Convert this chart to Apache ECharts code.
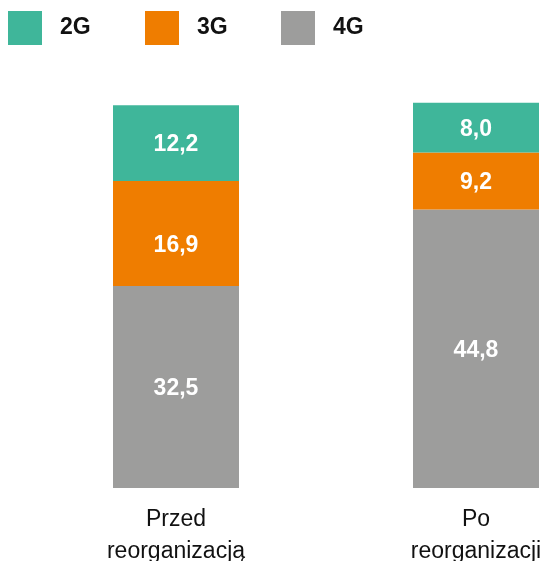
<!DOCTYPE html>
<html>
<head>
<meta charset="utf-8">
<script src="https://cdn.jsdelivr.net/npm/echarts@6/dist/echarts.min.js"></script>
<style>html,body{margin:0;padding:0;background:#fff;}#c{width:543px;height:561px;}</style>
</head>
<body>
<div id="c"></div>
<script>
const categories = ['Przed\nreorganizacją', 'Po\nreorganizacji'];
const seriesNames = ['2G', '3G', '4G'];
const values2G = [12.2, 8.0];
const values3G = [16.9, 9.2];
const values4G = [32.5, 44.8];

const colors = { '2G': '#3FB69A', '3G': '#EF7D00', '4G': '#9D9D9C' };
const FONT = '"Liberation Sans", Arial, Helvetica, sans-serif';

const chart = echarts.init(document.getElementById('c'));
const fmt = p => p.value.toFixed(1).replace('.', ',');

function mkSeries(name, values, offsets) {
  return {
    name: name, type: 'bar', stack: 'total',
    data: values.map((v, i) => (offsets && offsets[i]) ? { value: v, label: { offset: offsets[i] } } : v),
    barWidth: 126,
    itemStyle: { color: colors[name] },
    label: { show: true, position: 'inside', formatter: fmt, color: '#fff', offset: [0, 2],
      fontFamily: FONT, fontSize: 23, fontWeight: 'bold' },
    emphasis: { disabled: true }
  };
}

function mkLegend(name, left) {
  return {
    data: [name], left: left, top: 11, padding: 0, itemWidth: 34, itemHeight: 34,
    icon: 'rect', selectedMode: false,
    textStyle: { fontFamily: FONT, fontSize: 23, fontWeight: 'bold', color: '#111', padding: [3, 0, 0, 13] }
  };
}

chart.setOption({
  animation: false,
  legend: [mkLegend('2G', 8), mkLegend('3G', 145), mkLegend('4G', 281)],
  grid: { left: 26, width: 600, top: 53, height: 435, containLabel: false, outerBoundsMode: 'none' },
  xAxis: {
    type: 'category', data: categories,
    axisLine: { show: false }, axisTick: { show: false }, splitLine: { show: false },
    axisLabel: { fontFamily: FONT, fontSize: 23, lineHeight: 32, margin: 16, color: '#111', interval: 0 }
  },
  yAxis: { type: 'value', min: 0, max: 70, show: false, splitLine: { show: false } },
  series: [
    mkSeries('4G', values4G),
    mkSeries('3G', values3G, [[0, 12]]),
    mkSeries('2G', values2G)
  ]
});
</script>
</body>
</html>
